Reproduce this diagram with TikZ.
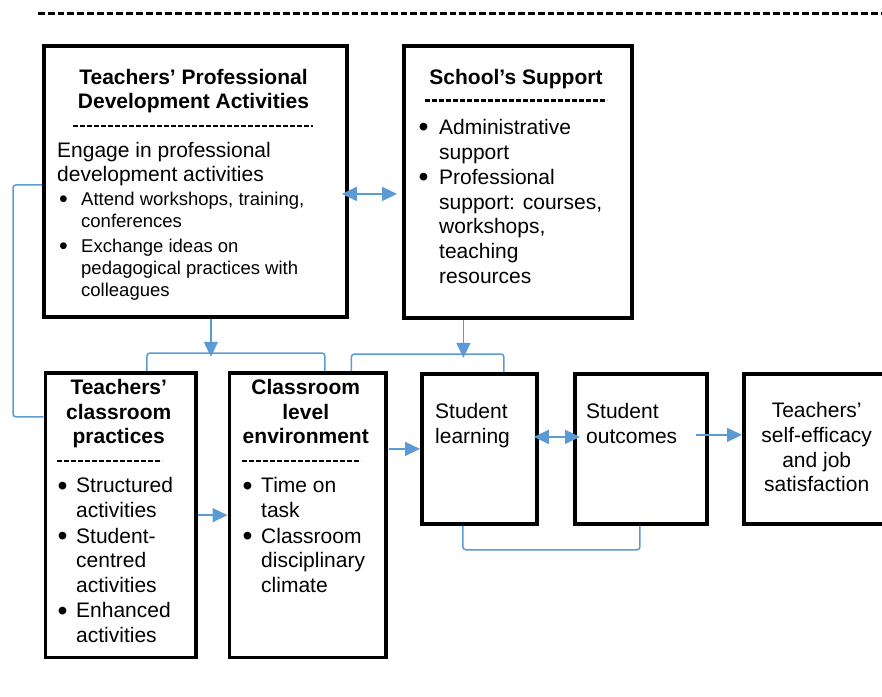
\documentclass[tikz,border=0pt]{standalone}
\usepackage{fontspec}
\usepackage{graphicx}
\setmainfont{Liberation Sans}
\usetikzlibrary{arrows.meta}

\definecolor{linkblue}{HTML}{5B9BD5}
\newcommand{\bul}[1]{\makebox[#1][l]{\raisebox{-2.2pt}{\scalebox{1.35}{\textbullet}}}}
\newcommand{\ind}[1]{\hspace*{#1}}

\tikzset{
  boxframe/.style={draw, line width=3.8pt, anchor=north west, inner sep=0pt},
  txt/.style={inner sep=0pt, align=left, anchor=north west, font=\fontsize{21}{24.6}\selectfont},
  smalltxt/.style={inner sep=0pt, align=left, anchor=north west, font=\fontsize{18.5}{21.8}\selectfont},
  headtxt/.style={inner sep=0pt, align=center, anchor=north, font=\bfseries\fontsize{21}{24.6}\selectfont},
  sepline/.style={line width=2.8pt, dash pattern=on 5pt off 2pt},
  link/.style={draw=linkblue, line width=1.5pt, rounded corners=3pt},
  >={Triangle[length=15pt,width=14pt]}
}

\begin{document}
\begin{tikzpicture}[x=1pt,y=-1pt]
    \useasboundingbox (0,0) rectangle (882,696);
    \clip (0,0) rectangle (882,696);

    % Separator at the top
    \draw[line width=3pt, dash pattern=on 6.8pt off 3pt] (38,13) -- (882,13);

    % Top row
    \node[boxframe, minimum width=303pt, minimum height=271pt] (A) at (42,44) {};
    \node[headtxt] (aHead) at (193.5,66.8) {\strut Teachers’ Professional\\Development Activities};
    \draw[sepline] (73,126) -- (313,126);
    \node[txt] (aBody) at (57,139.8) {\strut Engage in professional\\development activities};
    \node[smalltxt] (aList) at (58.8,190) {\strut\bul{22.2pt}Attend workshops, training,\\
        \ind{22.2pt}conferences\\[3.4pt]
        \bul{22.2pt}Exchange ideas on\\
        \ind{22.2pt}pedagogical practices with\\
        \ind{22.2pt}colleagues};

    \node[boxframe, minimum width=228pt, minimum height=272pt] (B) at (402,44) {};
    \node[headtxt] (bHead) at (516,67.1) {\strut School’s Support};
    \draw[sepline] (425,100.7) -- (607,100.7);
    \node[txt] (bList) at (418.3,117.1) {\strut\bul{20.7pt}Administrative\\
        \ind{20.7pt}support\\[1pt]
        \bul{20.7pt}Professional\\
        \ind{20.7pt}support: courses,\\
        \ind{20.7pt}workshops,\\
        \ind{20.7pt}teaching\\
        \ind{20.7pt}resources};

    % Bottom row
    \node[boxframe, minimum width=150.5pt, minimum height=284.5pt] (C) at (43.5,371) {};
    \node[headtxt] (cHead) at (118.75,377.1) {\strut Teachers’\\classroom\\practices};
    \draw[sepline] (57,461) -- (162,461);
    \node[txt] (cList) at (57.3,475.5) {\strut\bul{18.7pt}Structured\\
        \ind{18.7pt}activities\\[1pt]
        \bul{18.7pt}Student-\\
        \ind{18.7pt}centred\\
        \ind{18.7pt}activities\\[1pt]
        \bul{18.7pt}Enhanced\\
        \ind{18.7pt}activities};

    \node[boxframe, minimum width=156.5pt, minimum height=284.5pt] (D) at (227.5,371) {};
    \node[headtxt] (dHead) at (305.75,377.1) {\strut Classroom\\level\\environment};
    \draw[sepline] (242,461) -- (361,461);
    \node[txt] (dList) at (242.3,475.5) {\strut\bul{18.7pt}Time on\\
        \ind{18.7pt}task\\[1pt]
        \bul{18.7pt}Classroom\\
        \ind{18.7pt}disciplinary\\
        \ind{18.7pt}climate};

    \node[boxframe, minimum width=115pt, minimum height=150pt] (E) at (420,372) {};
    \node[txt] (eText) at (435,401.1) {\strut Student\\learning};

    \node[boxframe, minimum width=132pt, minimum height=150pt] (F) at (573,372) {};
    \node[txt] (fText) at (586,401.1) {\strut Student\\outcomes};

    \node[boxframe, minimum width=160pt, minimum height=150pt] (G) at (742,372) {};
    \node[txt, align=center, anchor=north] (gText) at (816.7,400.5) {\strut Teachers’\\self-efficacy\\and job\\satisfaction};

    % Links
    \draw[link,<->] ([xshift=-7pt,yshift=-12.5pt]A.east) -- ([xshift=-5pt,yshift=-12pt]B.west);
    \draw[link,->] ([xshift=15.5pt]A.south) -- ++(0,38);
    \draw[link] ([xshift=26.25pt]C.north) -- ++(0,-18) -| ([xshift=17.25pt]D.north);
    \draw[link,->] ([xshift=-54.5pt]B.south) -- ++(0,38);
    \draw[link] ([xshift=43.75pt]D.north) -- ++(0,-17) -| ([xshift=24.5pt]E.north);
    \draw[link] ([yshift=-3.5pt]A.west) -- ++(-29,0) |- ([yshift=98.25pt]C.west);
    \draw[link,->] (C.east) -- (D.west);
    \draw[link,->] ([xshift=-31pt]E.west) -- (E.west);
    \draw[link,<->] ([xshift=-5pt,yshift=12pt]E.east) -- ([xshift=7pt,yshift=12pt]F.west);
    \draw[link,->] ([xshift=-13pt,yshift=14pt]F.east) -- ([yshift=14pt]G.west);
    \draw[link] ([xshift=-16.5pt]E.south) -- ++(0,24) -| ([xshift=-1pt]F.south);
\end{tikzpicture}
\end{document}
